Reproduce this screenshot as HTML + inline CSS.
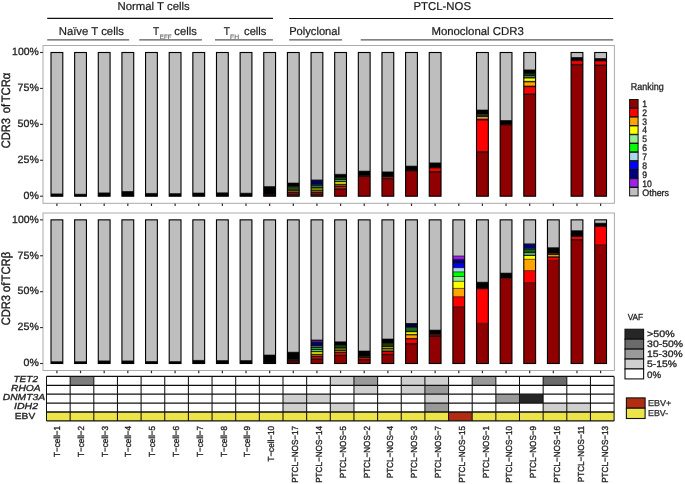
<!DOCTYPE html>
<html><head><meta charset="utf-8"><style>
html,body{margin:0;padding:0;background:#fff;width:685px;height:484px;overflow:hidden}
svg{display:block;will-change:transform}
text{font-family:"Liberation Sans", sans-serif;text-rendering:geometricPrecision;stroke-width:0.3px}
</style></head><body><div id="w">
<svg width="685" height="484" viewBox="0 0 685 484" font-family='"Liberation Sans", sans-serif'>
<rect x="0.00" y="0.00" width="685.00" height="484.00" fill="#ffffff"/>
<g>
<rect x="0.00" y="0.00" width="685.00" height="484.00" fill="#ffffff"/>
<text x="117.50" y="9.60" font-size="11.4" text-anchor="start" fill="#1a1a1a" stroke="#1a1a1a" textLength="72.20" lengthAdjust="spacingAndGlyphs" style="stroke-width:0.2px">Normal T cells</text>
<text x="413.50" y="9.50" font-size="11.4" text-anchor="start" fill="#1a1a1a" stroke="#1a1a1a" textLength="57.50" lengthAdjust="spacingAndGlyphs" style="stroke-width:0.2px">PTCL-NOS</text>
<line x1="47.20" y1="18.30" x2="273.00" y2="18.30" stroke="#111" stroke-width="1.2"/>
<line x1="289.20" y1="18.50" x2="613.20" y2="18.50" stroke="#111" stroke-width="1.2"/>
<text x="58.70" y="34.60" font-size="11.4" text-anchor="start" fill="#1a1a1a" stroke="#1a1a1a" textLength="65.20" lengthAdjust="spacingAndGlyphs" style="stroke-width:0.2px">Naïve T cells</text>
<text x="153.10" y="34.50" font-size="11.4" text-anchor="start" fill="#1a1a1a" stroke="#1a1a1a" textLength="6.20" lengthAdjust="spacingAndGlyphs" style="stroke-width:0.2px">T</text>
<text x="159.80" y="38.90" font-size="6.3" text-anchor="start" fill="#5a5a5a" stroke="#5a5a5a" textLength="11.90" lengthAdjust="spacingAndGlyphs" style="stroke-width:0.1px">EFF</text>
<text x="174.30" y="34.50" font-size="11.4" text-anchor="start" fill="#1a1a1a" stroke="#1a1a1a" textLength="22.50" lengthAdjust="spacingAndGlyphs" style="stroke-width:0.2px">cells</text>
<text x="223.80" y="34.50" font-size="11.4" text-anchor="start" fill="#1a1a1a" stroke="#1a1a1a" textLength="6.20" lengthAdjust="spacingAndGlyphs" style="stroke-width:0.2px">T</text>
<text x="230.10" y="38.90" font-size="6.3" text-anchor="start" fill="#5a5a5a" stroke="#5a5a5a" textLength="9.00" lengthAdjust="spacingAndGlyphs" style="stroke-width:0.1px">FH</text>
<text x="244.10" y="34.50" font-size="11.4" text-anchor="start" fill="#1a1a1a" stroke="#1a1a1a" textLength="22.30" lengthAdjust="spacingAndGlyphs" style="stroke-width:0.2px">cells</text>
<text x="289.20" y="34.50" font-size="11.4" text-anchor="start" fill="#1a1a1a" stroke="#1a1a1a" textLength="50.80" lengthAdjust="spacingAndGlyphs" style="stroke-width:0.2px">Polyclonal</text>
<text x="431.40" y="35.00" font-size="11.4" text-anchor="start" fill="#1a1a1a" stroke="#1a1a1a" textLength="92.40" lengthAdjust="spacingAndGlyphs" style="stroke-width:0.2px">Monoclonal CDR3</text>
<line x1="47.20" y1="39.85" x2="129.20" y2="39.85" stroke="#5a5a5a" stroke-width="1.3"/>
<line x1="139.30" y1="39.85" x2="201.90" y2="39.85" stroke="#5a5a5a" stroke-width="1.3"/>
<line x1="215.00" y1="39.85" x2="272.90" y2="39.85" stroke="#5a5a5a" stroke-width="1.3"/>
<line x1="289.20" y1="39.85" x2="342.10" y2="39.85" stroke="#5a5a5a" stroke-width="1.3"/>
<line x1="360.70" y1="39.85" x2="613.20" y2="39.85" stroke="#5a5a5a" stroke-width="1.3"/>
<rect x="43.00" y="45.50" width="571.40" height="157.80" fill="#ffffff" stroke="#ababab" stroke-width="1.0"/>
<rect x="43.00" y="213.00" width="571.40" height="157.50" fill="#ffffff" stroke="#ababab" stroke-width="1.0"/>
<line x1="40.00" y1="196.20" x2="43.00" y2="196.20" stroke="#333" stroke-width="1.1"/>
<text x="38.80" y="199.00" font-size="10.5" text-anchor="end" fill="#222" stroke="#222" textLength="15.30" lengthAdjust="spacingAndGlyphs">0%</text>
<line x1="40.00" y1="160.27" x2="43.00" y2="160.27" stroke="#333" stroke-width="1.1"/>
<text x="38.80" y="163.07" font-size="10.5" text-anchor="end" fill="#222" stroke="#222" textLength="21.20" lengthAdjust="spacingAndGlyphs">25%</text>
<line x1="40.00" y1="124.35" x2="43.00" y2="124.35" stroke="#333" stroke-width="1.1"/>
<text x="38.80" y="127.15" font-size="10.5" text-anchor="end" fill="#222" stroke="#222" textLength="21.20" lengthAdjust="spacingAndGlyphs">50%</text>
<line x1="40.00" y1="88.42" x2="43.00" y2="88.42" stroke="#333" stroke-width="1.1"/>
<text x="38.80" y="91.22" font-size="10.5" text-anchor="end" fill="#222" stroke="#222" textLength="21.20" lengthAdjust="spacingAndGlyphs">75%</text>
<line x1="40.00" y1="52.50" x2="43.00" y2="52.50" stroke="#333" stroke-width="1.1"/>
<text x="38.80" y="55.30" font-size="10.5" text-anchor="end" fill="#222" stroke="#222" textLength="26.70" lengthAdjust="spacingAndGlyphs">100%</text>
<line x1="40.00" y1="363.50" x2="43.00" y2="363.50" stroke="#333" stroke-width="1.1"/>
<text x="38.80" y="366.30" font-size="10.5" text-anchor="end" fill="#222" stroke="#222" textLength="15.30" lengthAdjust="spacingAndGlyphs">0%</text>
<line x1="40.00" y1="327.59" x2="43.00" y2="327.59" stroke="#333" stroke-width="1.1"/>
<text x="38.80" y="330.39" font-size="10.5" text-anchor="end" fill="#222" stroke="#222" textLength="21.20" lengthAdjust="spacingAndGlyphs">25%</text>
<line x1="40.00" y1="291.68" x2="43.00" y2="291.68" stroke="#333" stroke-width="1.1"/>
<text x="38.80" y="294.48" font-size="10.5" text-anchor="end" fill="#222" stroke="#222" textLength="21.20" lengthAdjust="spacingAndGlyphs">50%</text>
<line x1="40.00" y1="255.76" x2="43.00" y2="255.76" stroke="#333" stroke-width="1.1"/>
<text x="38.80" y="258.56" font-size="10.5" text-anchor="end" fill="#222" stroke="#222" textLength="21.20" lengthAdjust="spacingAndGlyphs">75%</text>
<line x1="40.00" y1="219.85" x2="43.00" y2="219.85" stroke="#333" stroke-width="1.1"/>
<text x="38.80" y="222.65" font-size="10.5" text-anchor="end" fill="#222" stroke="#222" textLength="26.70" lengthAdjust="spacingAndGlyphs">100%</text>
<text transform="translate(9.70,148.30) scale(1.15,1) rotate(-90)" x="0" y="0" font-size="10.6" fill="#1a1a1a" stroke="#1a1a1a" textLength="30.20" lengthAdjust="spacingAndGlyphs">CDR3</text>
<text transform="translate(9.70,113.30) scale(1.15,1) rotate(-90)" x="0" y="0" font-size="10.6" fill="#1a1a1a" stroke="#1a1a1a" textLength="9.30" lengthAdjust="spacingAndGlyphs">of</text>
<text transform="translate(9.70,102.30) scale(1.15,1) rotate(-90)" x="0" y="0" font-size="10.6" fill="#1a1a1a" stroke="#1a1a1a" textLength="29.70" lengthAdjust="spacingAndGlyphs">TCRα</text>
<text transform="translate(9.70,325.30) scale(1.15,1) rotate(-90)" x="0" y="0" font-size="10.6" fill="#1a1a1a" stroke="#1a1a1a" textLength="30.30" lengthAdjust="spacingAndGlyphs">CDR3</text>
<text transform="translate(9.70,292.30) scale(1.15,1) rotate(-90)" x="0" y="0" font-size="10.6" fill="#1a1a1a" stroke="#1a1a1a" textLength="9.70" lengthAdjust="spacingAndGlyphs">of</text>
<text transform="translate(9.70,281.40) scale(1.15,1) rotate(-90)" x="0" y="0" font-size="10.6" fill="#1a1a1a" stroke="#1a1a1a" textLength="29.50" lengthAdjust="spacingAndGlyphs">TCRβ</text>
<rect x="51.00" y="52.50" width="11.80" height="143.70" fill="#bebebe"/>
<rect x="51.00" y="193.90" width="11.80" height="2.30" fill="#000000"/>
<line x1="51.00" y1="193.90" x2="62.80" y2="193.90" stroke="#000" stroke-width="0.6"/>
<rect x="51.00" y="52.50" width="11.80" height="143.70" fill="none" stroke="#000" stroke-width="1.1"/>
<rect x="51.00" y="219.85" width="11.80" height="143.65" fill="#bebebe"/>
<rect x="51.00" y="361.70" width="11.80" height="1.80" fill="#000000"/>
<line x1="51.00" y1="361.70" x2="62.80" y2="361.70" stroke="#000" stroke-width="0.6"/>
<rect x="51.00" y="219.85" width="11.80" height="143.65" fill="none" stroke="#000" stroke-width="1.1"/>
<line x1="56.90" y1="203.60" x2="56.90" y2="206.00" stroke="#2a2a2a" stroke-width="1.2"/>
<line x1="56.90" y1="370.80" x2="56.90" y2="373.20" stroke="#2a2a2a" stroke-width="1.2"/>
<rect x="74.64" y="52.50" width="11.80" height="143.70" fill="#bebebe"/>
<rect x="74.64" y="194.20" width="11.80" height="2.00" fill="#000000"/>
<line x1="74.64" y1="194.20" x2="86.44" y2="194.20" stroke="#000" stroke-width="0.6"/>
<rect x="74.64" y="52.50" width="11.80" height="143.70" fill="none" stroke="#000" stroke-width="1.1"/>
<rect x="74.64" y="219.85" width="11.80" height="143.65" fill="#bebebe"/>
<rect x="74.64" y="361.70" width="11.80" height="1.80" fill="#000000"/>
<line x1="74.64" y1="361.70" x2="86.44" y2="361.70" stroke="#000" stroke-width="0.6"/>
<rect x="74.64" y="219.85" width="11.80" height="143.65" fill="none" stroke="#000" stroke-width="1.1"/>
<line x1="80.54" y1="203.60" x2="80.54" y2="206.00" stroke="#2a2a2a" stroke-width="1.2"/>
<line x1="80.54" y1="370.80" x2="80.54" y2="373.20" stroke="#2a2a2a" stroke-width="1.2"/>
<rect x="98.28" y="52.50" width="11.80" height="143.70" fill="#bebebe"/>
<rect x="98.28" y="192.90" width="11.80" height="3.30" fill="#000000"/>
<line x1="98.28" y1="192.90" x2="110.08" y2="192.90" stroke="#000" stroke-width="0.6"/>
<rect x="98.28" y="52.50" width="11.80" height="143.70" fill="none" stroke="#000" stroke-width="1.1"/>
<rect x="98.28" y="219.85" width="11.80" height="143.65" fill="#bebebe"/>
<rect x="98.28" y="360.90" width="11.80" height="2.60" fill="#000000"/>
<line x1="98.28" y1="360.90" x2="110.08" y2="360.90" stroke="#000" stroke-width="0.6"/>
<rect x="98.28" y="219.85" width="11.80" height="143.65" fill="none" stroke="#000" stroke-width="1.1"/>
<line x1="104.18" y1="203.60" x2="104.18" y2="206.00" stroke="#2a2a2a" stroke-width="1.2"/>
<line x1="104.18" y1="370.80" x2="104.18" y2="373.20" stroke="#2a2a2a" stroke-width="1.2"/>
<rect x="121.92" y="52.50" width="11.80" height="143.70" fill="#bebebe"/>
<rect x="121.92" y="191.50" width="11.80" height="4.70" fill="#000000"/>
<line x1="121.92" y1="191.50" x2="133.72" y2="191.50" stroke="#000" stroke-width="0.6"/>
<rect x="121.92" y="52.50" width="11.80" height="143.70" fill="none" stroke="#000" stroke-width="1.1"/>
<rect x="121.92" y="219.85" width="11.80" height="143.65" fill="#bebebe"/>
<rect x="121.92" y="360.90" width="11.80" height="2.60" fill="#000000"/>
<line x1="121.92" y1="360.90" x2="133.72" y2="360.90" stroke="#000" stroke-width="0.6"/>
<rect x="121.92" y="219.85" width="11.80" height="143.65" fill="none" stroke="#000" stroke-width="1.1"/>
<line x1="127.82" y1="203.60" x2="127.82" y2="206.00" stroke="#2a2a2a" stroke-width="1.2"/>
<line x1="127.82" y1="370.80" x2="127.82" y2="373.20" stroke="#2a2a2a" stroke-width="1.2"/>
<rect x="145.56" y="52.50" width="11.80" height="143.70" fill="#bebebe"/>
<rect x="145.56" y="193.40" width="11.80" height="2.80" fill="#000000"/>
<line x1="145.56" y1="193.40" x2="157.36" y2="193.40" stroke="#000" stroke-width="0.6"/>
<rect x="145.56" y="52.50" width="11.80" height="143.70" fill="none" stroke="#000" stroke-width="1.1"/>
<rect x="145.56" y="219.85" width="11.80" height="143.65" fill="#bebebe"/>
<rect x="145.56" y="361.50" width="11.80" height="2.00" fill="#000000"/>
<line x1="145.56" y1="361.50" x2="157.36" y2="361.50" stroke="#000" stroke-width="0.6"/>
<rect x="145.56" y="219.85" width="11.80" height="143.65" fill="none" stroke="#000" stroke-width="1.1"/>
<line x1="151.46" y1="203.60" x2="151.46" y2="206.00" stroke="#2a2a2a" stroke-width="1.2"/>
<line x1="151.46" y1="370.80" x2="151.46" y2="373.20" stroke="#2a2a2a" stroke-width="1.2"/>
<rect x="169.20" y="52.50" width="11.80" height="143.70" fill="#bebebe"/>
<rect x="169.20" y="193.60" width="11.80" height="2.60" fill="#000000"/>
<line x1="169.20" y1="193.60" x2="181.00" y2="193.60" stroke="#000" stroke-width="0.6"/>
<rect x="169.20" y="52.50" width="11.80" height="143.70" fill="none" stroke="#000" stroke-width="1.1"/>
<rect x="169.20" y="219.85" width="11.80" height="143.65" fill="#bebebe"/>
<rect x="169.20" y="361.60" width="11.80" height="1.90" fill="#000000"/>
<line x1="169.20" y1="361.60" x2="181.00" y2="361.60" stroke="#000" stroke-width="0.6"/>
<rect x="169.20" y="219.85" width="11.80" height="143.65" fill="none" stroke="#000" stroke-width="1.1"/>
<line x1="175.10" y1="203.60" x2="175.10" y2="206.00" stroke="#2a2a2a" stroke-width="1.2"/>
<line x1="175.10" y1="370.80" x2="175.10" y2="373.20" stroke="#2a2a2a" stroke-width="1.2"/>
<rect x="192.84" y="52.50" width="11.80" height="143.70" fill="#bebebe"/>
<rect x="192.84" y="193.00" width="11.80" height="3.20" fill="#000000"/>
<line x1="192.84" y1="193.00" x2="204.64" y2="193.00" stroke="#000" stroke-width="0.6"/>
<rect x="192.84" y="52.50" width="11.80" height="143.70" fill="none" stroke="#000" stroke-width="1.1"/>
<rect x="192.84" y="219.85" width="11.80" height="143.65" fill="#bebebe"/>
<rect x="192.84" y="360.40" width="11.80" height="3.10" fill="#000000"/>
<line x1="192.84" y1="360.40" x2="204.64" y2="360.40" stroke="#000" stroke-width="0.6"/>
<rect x="192.84" y="219.85" width="11.80" height="143.65" fill="none" stroke="#000" stroke-width="1.1"/>
<line x1="198.74" y1="203.60" x2="198.74" y2="206.00" stroke="#2a2a2a" stroke-width="1.2"/>
<line x1="198.74" y1="370.80" x2="198.74" y2="373.20" stroke="#2a2a2a" stroke-width="1.2"/>
<rect x="216.48" y="52.50" width="11.80" height="143.70" fill="#bebebe"/>
<rect x="216.48" y="192.80" width="11.80" height="3.40" fill="#000000"/>
<line x1="216.48" y1="192.80" x2="228.28" y2="192.80" stroke="#000" stroke-width="0.6"/>
<rect x="216.48" y="52.50" width="11.80" height="143.70" fill="none" stroke="#000" stroke-width="1.1"/>
<rect x="216.48" y="219.85" width="11.80" height="143.65" fill="#bebebe"/>
<rect x="216.48" y="360.60" width="11.80" height="2.90" fill="#000000"/>
<line x1="216.48" y1="360.60" x2="228.28" y2="360.60" stroke="#000" stroke-width="0.6"/>
<rect x="216.48" y="219.85" width="11.80" height="143.65" fill="none" stroke="#000" stroke-width="1.1"/>
<line x1="222.38" y1="203.60" x2="222.38" y2="206.00" stroke="#2a2a2a" stroke-width="1.2"/>
<line x1="222.38" y1="370.80" x2="222.38" y2="373.20" stroke="#2a2a2a" stroke-width="1.2"/>
<rect x="240.12" y="52.50" width="11.80" height="143.70" fill="#bebebe"/>
<rect x="240.12" y="193.20" width="11.80" height="3.00" fill="#000000"/>
<line x1="240.12" y1="193.20" x2="251.92" y2="193.20" stroke="#000" stroke-width="0.6"/>
<rect x="240.12" y="52.50" width="11.80" height="143.70" fill="none" stroke="#000" stroke-width="1.1"/>
<rect x="240.12" y="219.85" width="11.80" height="143.65" fill="#bebebe"/>
<rect x="240.12" y="360.60" width="11.80" height="2.90" fill="#000000"/>
<line x1="240.12" y1="360.60" x2="251.92" y2="360.60" stroke="#000" stroke-width="0.6"/>
<rect x="240.12" y="219.85" width="11.80" height="143.65" fill="none" stroke="#000" stroke-width="1.1"/>
<line x1="246.02" y1="203.60" x2="246.02" y2="206.00" stroke="#2a2a2a" stroke-width="1.2"/>
<line x1="246.02" y1="370.80" x2="246.02" y2="373.20" stroke="#2a2a2a" stroke-width="1.2"/>
<rect x="263.76" y="52.50" width="11.80" height="143.70" fill="#bebebe"/>
<rect x="263.76" y="194.80" width="11.80" height="1.40" fill="#2a0000"/>
<rect x="263.76" y="186.60" width="11.80" height="8.20" fill="#000000"/>
<line x1="263.76" y1="194.80" x2="275.56" y2="194.80" stroke="#000" stroke-width="0.6"/>
<line x1="263.76" y1="186.60" x2="275.56" y2="186.60" stroke="#000" stroke-width="0.6"/>
<rect x="263.76" y="52.50" width="11.80" height="143.70" fill="none" stroke="#000" stroke-width="1.1"/>
<rect x="263.76" y="219.85" width="11.80" height="143.65" fill="#bebebe"/>
<rect x="263.76" y="362.00" width="11.80" height="1.50" fill="#200000"/>
<rect x="263.76" y="355.00" width="11.80" height="7.00" fill="#000000"/>
<line x1="263.76" y1="362.00" x2="275.56" y2="362.00" stroke="#000" stroke-width="0.6"/>
<line x1="263.76" y1="355.00" x2="275.56" y2="355.00" stroke="#000" stroke-width="0.6"/>
<rect x="263.76" y="219.85" width="11.80" height="143.65" fill="none" stroke="#000" stroke-width="1.1"/>
<line x1="269.66" y1="203.60" x2="269.66" y2="206.00" stroke="#2a2a2a" stroke-width="1.2"/>
<line x1="269.66" y1="370.80" x2="269.66" y2="373.20" stroke="#2a2a2a" stroke-width="1.2"/>
<rect x="287.40" y="52.50" width="11.80" height="143.70" fill="#bebebe"/>
<rect x="287.40" y="194.30" width="11.80" height="1.90" fill="#900000"/>
<rect x="287.40" y="193.90" width="11.80" height="0.40" fill="#000000"/>
<rect x="287.40" y="192.50" width="11.80" height="1.40" fill="#c81818"/>
<rect x="287.40" y="192.20" width="11.80" height="0.30" fill="#000000"/>
<rect x="287.40" y="191.00" width="11.80" height="1.20" fill="#ffa500"/>
<rect x="287.40" y="190.70" width="11.80" height="0.30" fill="#000000"/>
<rect x="287.40" y="189.60" width="11.80" height="1.10" fill="#6a6a00"/>
<rect x="287.40" y="186.70" width="11.80" height="2.90" fill="#1a4a1a"/>
<rect x="287.40" y="183.00" width="11.80" height="3.70" fill="#000000"/>
<line x1="287.40" y1="194.30" x2="299.20" y2="194.30" stroke="#000" stroke-width="0.6"/>
<line x1="287.40" y1="193.90" x2="299.20" y2="193.90" stroke="#000" stroke-width="0.6"/>
<line x1="287.40" y1="192.50" x2="299.20" y2="192.50" stroke="#000" stroke-width="0.6"/>
<line x1="287.40" y1="192.20" x2="299.20" y2="192.20" stroke="#000" stroke-width="0.6"/>
<line x1="287.40" y1="191.00" x2="299.20" y2="191.00" stroke="#000" stroke-width="0.6"/>
<line x1="287.40" y1="190.70" x2="299.20" y2="190.70" stroke="#000" stroke-width="0.6"/>
<line x1="287.40" y1="189.60" x2="299.20" y2="189.60" stroke="#000" stroke-width="0.6"/>
<line x1="287.40" y1="186.70" x2="299.20" y2="186.70" stroke="#000" stroke-width="0.6"/>
<line x1="287.40" y1="183.00" x2="299.20" y2="183.00" stroke="#000" stroke-width="0.6"/>
<rect x="287.40" y="52.50" width="11.80" height="143.70" fill="none" stroke="#000" stroke-width="1.1"/>
<rect x="287.40" y="219.85" width="11.80" height="143.65" fill="#bebebe"/>
<rect x="287.40" y="360.50" width="11.80" height="3.00" fill="#5a0000"/>
<rect x="287.40" y="359.70" width="11.80" height="0.80" fill="#1a0000"/>
<rect x="287.40" y="352.20" width="11.80" height="7.50" fill="#000000"/>
<line x1="287.40" y1="360.50" x2="299.20" y2="360.50" stroke="#000" stroke-width="0.6"/>
<line x1="287.40" y1="359.70" x2="299.20" y2="359.70" stroke="#000" stroke-width="0.6"/>
<line x1="287.40" y1="352.20" x2="299.20" y2="352.20" stroke="#000" stroke-width="0.6"/>
<rect x="287.40" y="219.85" width="11.80" height="143.65" fill="none" stroke="#000" stroke-width="1.1"/>
<line x1="293.30" y1="203.60" x2="293.30" y2="206.00" stroke="#2a2a2a" stroke-width="1.2"/>
<line x1="293.30" y1="370.80" x2="293.30" y2="373.20" stroke="#2a2a2a" stroke-width="1.2"/>
<rect x="311.04" y="52.50" width="11.80" height="143.70" fill="#bebebe"/>
<rect x="311.04" y="194.30" width="11.80" height="1.90" fill="#900000"/>
<rect x="311.04" y="193.90" width="11.80" height="0.40" fill="#000000"/>
<rect x="311.04" y="192.50" width="11.80" height="1.40" fill="#c81818"/>
<rect x="311.04" y="192.20" width="11.80" height="0.30" fill="#000000"/>
<rect x="311.04" y="191.00" width="11.80" height="1.20" fill="#ffa500"/>
<rect x="311.04" y="190.60" width="11.80" height="0.40" fill="#000000"/>
<rect x="311.04" y="187.80" width="11.80" height="2.80" fill="#7a8a10"/>
<rect x="311.04" y="187.40" width="11.80" height="0.40" fill="#000000"/>
<rect x="311.04" y="185.30" width="11.80" height="2.10" fill="#1a8a2a"/>
<rect x="311.04" y="185.00" width="11.80" height="0.30" fill="#000000"/>
<rect x="311.04" y="184.20" width="11.80" height="0.80" fill="#1a4a6a"/>
<rect x="311.04" y="180.30" width="11.80" height="3.90" fill="#000060"/>
<rect x="311.04" y="180.00" width="11.80" height="0.30" fill="#000000"/>
<line x1="311.04" y1="194.30" x2="322.84" y2="194.30" stroke="#000" stroke-width="0.6"/>
<line x1="311.04" y1="193.90" x2="322.84" y2="193.90" stroke="#000" stroke-width="0.6"/>
<line x1="311.04" y1="192.50" x2="322.84" y2="192.50" stroke="#000" stroke-width="0.6"/>
<line x1="311.04" y1="192.20" x2="322.84" y2="192.20" stroke="#000" stroke-width="0.6"/>
<line x1="311.04" y1="191.00" x2="322.84" y2="191.00" stroke="#000" stroke-width="0.6"/>
<line x1="311.04" y1="190.60" x2="322.84" y2="190.60" stroke="#000" stroke-width="0.6"/>
<line x1="311.04" y1="187.80" x2="322.84" y2="187.80" stroke="#000" stroke-width="0.6"/>
<line x1="311.04" y1="187.40" x2="322.84" y2="187.40" stroke="#000" stroke-width="0.6"/>
<line x1="311.04" y1="185.30" x2="322.84" y2="185.30" stroke="#000" stroke-width="0.6"/>
<line x1="311.04" y1="185.00" x2="322.84" y2="185.00" stroke="#000" stroke-width="0.6"/>
<line x1="311.04" y1="184.20" x2="322.84" y2="184.20" stroke="#000" stroke-width="0.6"/>
<line x1="311.04" y1="180.30" x2="322.84" y2="180.30" stroke="#000" stroke-width="0.6"/>
<line x1="311.04" y1="180.00" x2="322.84" y2="180.00" stroke="#000" stroke-width="0.6"/>
<rect x="311.04" y="52.50" width="11.80" height="143.70" fill="none" stroke="#000" stroke-width="1.1"/>
<rect x="311.04" y="219.85" width="11.80" height="143.65" fill="#bebebe"/>
<rect x="311.04" y="359.20" width="11.80" height="4.30" fill="#900000"/>
<rect x="311.04" y="358.80" width="11.80" height="0.40" fill="#000000"/>
<rect x="311.04" y="356.80" width="11.80" height="2.00" fill="#ff0000"/>
<rect x="311.04" y="356.10" width="11.80" height="0.70" fill="#000000"/>
<rect x="311.04" y="354.90" width="11.80" height="1.20" fill="#ffa500"/>
<rect x="311.04" y="354.20" width="11.80" height="0.70" fill="#000000"/>
<rect x="311.04" y="351.90" width="11.80" height="2.30" fill="#ffff00"/>
<rect x="311.04" y="351.30" width="11.80" height="0.60" fill="#000000"/>
<rect x="311.04" y="349.70" width="11.80" height="1.60" fill="#90ee90"/>
<rect x="311.04" y="349.10" width="11.80" height="0.60" fill="#000000"/>
<rect x="311.04" y="347.50" width="11.80" height="1.60" fill="#00ff00"/>
<rect x="311.04" y="346.90" width="11.80" height="0.60" fill="#000000"/>
<rect x="311.04" y="346.00" width="11.80" height="0.90" fill="#add8e6"/>
<rect x="311.04" y="345.40" width="11.80" height="0.60" fill="#000000"/>
<rect x="311.04" y="342.30" width="11.80" height="3.10" fill="#000080"/>
<rect x="311.04" y="341.80" width="11.80" height="0.50" fill="#000000"/>
<rect x="311.04" y="340.40" width="11.80" height="1.40" fill="#a020f0"/>
<rect x="311.04" y="340.00" width="11.80" height="0.40" fill="#000000"/>
<line x1="311.04" y1="359.20" x2="322.84" y2="359.20" stroke="#000" stroke-width="0.6"/>
<line x1="311.04" y1="358.80" x2="322.84" y2="358.80" stroke="#000" stroke-width="0.6"/>
<line x1="311.04" y1="356.80" x2="322.84" y2="356.80" stroke="#000" stroke-width="0.6"/>
<line x1="311.04" y1="356.10" x2="322.84" y2="356.10" stroke="#000" stroke-width="0.6"/>
<line x1="311.04" y1="354.90" x2="322.84" y2="354.90" stroke="#000" stroke-width="0.6"/>
<line x1="311.04" y1="354.20" x2="322.84" y2="354.20" stroke="#000" stroke-width="0.6"/>
<line x1="311.04" y1="351.90" x2="322.84" y2="351.90" stroke="#000" stroke-width="0.6"/>
<line x1="311.04" y1="351.30" x2="322.84" y2="351.30" stroke="#000" stroke-width="0.6"/>
<line x1="311.04" y1="349.70" x2="322.84" y2="349.70" stroke="#000" stroke-width="0.6"/>
<line x1="311.04" y1="349.10" x2="322.84" y2="349.10" stroke="#000" stroke-width="0.6"/>
<line x1="311.04" y1="347.50" x2="322.84" y2="347.50" stroke="#000" stroke-width="0.6"/>
<line x1="311.04" y1="346.90" x2="322.84" y2="346.90" stroke="#000" stroke-width="0.6"/>
<line x1="311.04" y1="346.00" x2="322.84" y2="346.00" stroke="#000" stroke-width="0.6"/>
<line x1="311.04" y1="345.40" x2="322.84" y2="345.40" stroke="#000" stroke-width="0.6"/>
<line x1="311.04" y1="342.30" x2="322.84" y2="342.30" stroke="#000" stroke-width="0.6"/>
<line x1="311.04" y1="341.80" x2="322.84" y2="341.80" stroke="#000" stroke-width="0.6"/>
<line x1="311.04" y1="340.40" x2="322.84" y2="340.40" stroke="#000" stroke-width="0.6"/>
<line x1="311.04" y1="340.00" x2="322.84" y2="340.00" stroke="#000" stroke-width="0.6"/>
<rect x="311.04" y="219.85" width="11.80" height="143.65" fill="none" stroke="#000" stroke-width="1.1"/>
<line x1="316.94" y1="203.60" x2="316.94" y2="206.00" stroke="#2a2a2a" stroke-width="1.2"/>
<line x1="316.94" y1="370.80" x2="316.94" y2="373.20" stroke="#2a2a2a" stroke-width="1.2"/>
<rect x="334.68" y="52.50" width="11.80" height="143.70" fill="#bebebe"/>
<rect x="334.68" y="189.20" width="11.80" height="7.00" fill="#900000"/>
<rect x="334.68" y="188.90" width="11.80" height="0.30" fill="#000000"/>
<rect x="334.68" y="186.30" width="11.80" height="2.60" fill="#c82010"/>
<rect x="334.68" y="186.00" width="11.80" height="0.30" fill="#000000"/>
<rect x="334.68" y="184.90" width="11.80" height="1.10" fill="#ffa500"/>
<rect x="334.68" y="184.30" width="11.80" height="0.60" fill="#000000"/>
<rect x="334.68" y="181.60" width="11.80" height="2.70" fill="#d8d810"/>
<rect x="334.68" y="181.10" width="11.80" height="0.50" fill="#000000"/>
<rect x="334.68" y="179.80" width="11.80" height="1.30" fill="#90ee90"/>
<rect x="334.68" y="179.50" width="11.80" height="0.30" fill="#000000"/>
<rect x="334.68" y="177.70" width="11.80" height="1.80" fill="#0a5a0a"/>
<rect x="334.68" y="174.30" width="11.80" height="3.40" fill="#000000"/>
<line x1="334.68" y1="189.20" x2="346.48" y2="189.20" stroke="#000" stroke-width="0.6"/>
<line x1="334.68" y1="188.90" x2="346.48" y2="188.90" stroke="#000" stroke-width="0.6"/>
<line x1="334.68" y1="186.30" x2="346.48" y2="186.30" stroke="#000" stroke-width="0.6"/>
<line x1="334.68" y1="186.00" x2="346.48" y2="186.00" stroke="#000" stroke-width="0.6"/>
<line x1="334.68" y1="184.90" x2="346.48" y2="184.90" stroke="#000" stroke-width="0.6"/>
<line x1="334.68" y1="184.30" x2="346.48" y2="184.30" stroke="#000" stroke-width="0.6"/>
<line x1="334.68" y1="181.60" x2="346.48" y2="181.60" stroke="#000" stroke-width="0.6"/>
<line x1="334.68" y1="181.10" x2="346.48" y2="181.10" stroke="#000" stroke-width="0.6"/>
<line x1="334.68" y1="179.80" x2="346.48" y2="179.80" stroke="#000" stroke-width="0.6"/>
<line x1="334.68" y1="179.50" x2="346.48" y2="179.50" stroke="#000" stroke-width="0.6"/>
<line x1="334.68" y1="177.70" x2="346.48" y2="177.70" stroke="#000" stroke-width="0.6"/>
<line x1="334.68" y1="174.30" x2="346.48" y2="174.30" stroke="#000" stroke-width="0.6"/>
<rect x="334.68" y="52.50" width="11.80" height="143.70" fill="none" stroke="#000" stroke-width="1.1"/>
<rect x="334.68" y="219.85" width="11.80" height="143.65" fill="#bebebe"/>
<rect x="334.68" y="355.60" width="11.80" height="7.90" fill="#900000"/>
<rect x="334.68" y="355.20" width="11.80" height="0.40" fill="#000000"/>
<rect x="334.68" y="352.80" width="11.80" height="2.40" fill="#ff0000"/>
<rect x="334.68" y="352.20" width="11.80" height="0.60" fill="#000000"/>
<rect x="334.68" y="350.90" width="11.80" height="1.30" fill="#ffa500"/>
<rect x="334.68" y="350.30" width="11.80" height="0.60" fill="#000000"/>
<rect x="334.68" y="348.00" width="11.80" height="2.30" fill="#6a7a00"/>
<rect x="334.68" y="347.60" width="11.80" height="0.40" fill="#000000"/>
<rect x="334.68" y="345.20" width="11.80" height="2.40" fill="#0a4a0a"/>
<rect x="334.68" y="341.80" width="11.80" height="3.40" fill="#000000"/>
<line x1="334.68" y1="355.60" x2="346.48" y2="355.60" stroke="#000" stroke-width="0.6"/>
<line x1="334.68" y1="355.20" x2="346.48" y2="355.20" stroke="#000" stroke-width="0.6"/>
<line x1="334.68" y1="352.80" x2="346.48" y2="352.80" stroke="#000" stroke-width="0.6"/>
<line x1="334.68" y1="352.20" x2="346.48" y2="352.20" stroke="#000" stroke-width="0.6"/>
<line x1="334.68" y1="350.90" x2="346.48" y2="350.90" stroke="#000" stroke-width="0.6"/>
<line x1="334.68" y1="350.30" x2="346.48" y2="350.30" stroke="#000" stroke-width="0.6"/>
<line x1="334.68" y1="348.00" x2="346.48" y2="348.00" stroke="#000" stroke-width="0.6"/>
<line x1="334.68" y1="347.60" x2="346.48" y2="347.60" stroke="#000" stroke-width="0.6"/>
<line x1="334.68" y1="345.20" x2="346.48" y2="345.20" stroke="#000" stroke-width="0.6"/>
<line x1="334.68" y1="341.80" x2="346.48" y2="341.80" stroke="#000" stroke-width="0.6"/>
<rect x="334.68" y="219.85" width="11.80" height="143.65" fill="none" stroke="#000" stroke-width="1.1"/>
<line x1="340.58" y1="203.60" x2="340.58" y2="206.00" stroke="#2a2a2a" stroke-width="1.2"/>
<line x1="340.58" y1="370.80" x2="340.58" y2="373.20" stroke="#2a2a2a" stroke-width="1.2"/>
<rect x="358.32" y="52.50" width="11.80" height="143.70" fill="#bebebe"/>
<rect x="358.32" y="176.60" width="11.80" height="19.60" fill="#900000"/>
<rect x="358.32" y="175.80" width="11.80" height="0.80" fill="#300000"/>
<rect x="358.32" y="171.10" width="11.80" height="4.70" fill="#000000"/>
<line x1="358.32" y1="176.60" x2="370.12" y2="176.60" stroke="#000" stroke-width="0.6"/>
<line x1="358.32" y1="175.80" x2="370.12" y2="175.80" stroke="#000" stroke-width="0.6"/>
<line x1="358.32" y1="171.10" x2="370.12" y2="171.10" stroke="#000" stroke-width="0.6"/>
<rect x="358.32" y="52.50" width="11.80" height="143.70" fill="none" stroke="#000" stroke-width="1.1"/>
<rect x="358.32" y="219.85" width="11.80" height="143.65" fill="#bebebe"/>
<rect x="358.32" y="359.90" width="11.80" height="3.60" fill="#900000"/>
<rect x="358.32" y="359.30" width="11.80" height="0.60" fill="#000000"/>
<rect x="358.32" y="357.50" width="11.80" height="1.80" fill="#ff0000"/>
<rect x="358.32" y="357.00" width="11.80" height="0.50" fill="#000000"/>
<rect x="358.32" y="356.10" width="11.80" height="0.90" fill="#0a4a0a"/>
<rect x="358.32" y="351.00" width="11.80" height="5.10" fill="#000000"/>
<line x1="358.32" y1="359.90" x2="370.12" y2="359.90" stroke="#000" stroke-width="0.6"/>
<line x1="358.32" y1="359.30" x2="370.12" y2="359.30" stroke="#000" stroke-width="0.6"/>
<line x1="358.32" y1="357.50" x2="370.12" y2="357.50" stroke="#000" stroke-width="0.6"/>
<line x1="358.32" y1="357.00" x2="370.12" y2="357.00" stroke="#000" stroke-width="0.6"/>
<line x1="358.32" y1="356.10" x2="370.12" y2="356.10" stroke="#000" stroke-width="0.6"/>
<line x1="358.32" y1="351.00" x2="370.12" y2="351.00" stroke="#000" stroke-width="0.6"/>
<rect x="358.32" y="219.85" width="11.80" height="143.65" fill="none" stroke="#000" stroke-width="1.1"/>
<line x1="364.22" y1="203.60" x2="364.22" y2="206.00" stroke="#2a2a2a" stroke-width="1.2"/>
<line x1="364.22" y1="370.80" x2="364.22" y2="373.20" stroke="#2a2a2a" stroke-width="1.2"/>
<rect x="381.96" y="52.50" width="11.80" height="143.70" fill="#bebebe"/>
<rect x="381.96" y="178.90" width="11.80" height="17.30" fill="#900000"/>
<rect x="381.96" y="178.60" width="11.80" height="0.30" fill="#000000"/>
<rect x="381.96" y="177.00" width="11.80" height="1.60" fill="#b02020"/>
<rect x="381.96" y="176.20" width="11.80" height="0.80" fill="#000000"/>
<rect x="381.96" y="171.90" width="11.80" height="4.30" fill="#000000"/>
<line x1="381.96" y1="178.90" x2="393.76" y2="178.90" stroke="#000" stroke-width="0.6"/>
<line x1="381.96" y1="178.60" x2="393.76" y2="178.60" stroke="#000" stroke-width="0.6"/>
<line x1="381.96" y1="177.00" x2="393.76" y2="177.00" stroke="#000" stroke-width="0.6"/>
<line x1="381.96" y1="176.20" x2="393.76" y2="176.20" stroke="#000" stroke-width="0.6"/>
<line x1="381.96" y1="171.90" x2="393.76" y2="171.90" stroke="#000" stroke-width="0.6"/>
<rect x="381.96" y="52.50" width="11.80" height="143.70" fill="none" stroke="#000" stroke-width="1.1"/>
<rect x="381.96" y="219.85" width="11.80" height="143.65" fill="#bebebe"/>
<rect x="381.96" y="354.70" width="11.80" height="8.80" fill="#900000"/>
<rect x="381.96" y="354.20" width="11.80" height="0.50" fill="#000000"/>
<rect x="381.96" y="351.70" width="11.80" height="2.50" fill="#ff0000"/>
<rect x="381.96" y="351.00" width="11.80" height="0.70" fill="#000000"/>
<rect x="381.96" y="348.70" width="11.80" height="2.30" fill="#a08a00"/>
<rect x="381.96" y="348.20" width="11.80" height="0.50" fill="#000000"/>
<rect x="381.96" y="346.90" width="11.80" height="1.30" fill="#ffff00"/>
<rect x="381.96" y="346.40" width="11.80" height="0.50" fill="#000000"/>
<rect x="381.96" y="343.30" width="11.80" height="3.10" fill="#1a3a0a"/>
<rect x="381.96" y="339.00" width="11.80" height="4.30" fill="#000000"/>
<line x1="381.96" y1="354.70" x2="393.76" y2="354.70" stroke="#000" stroke-width="0.6"/>
<line x1="381.96" y1="354.20" x2="393.76" y2="354.20" stroke="#000" stroke-width="0.6"/>
<line x1="381.96" y1="351.70" x2="393.76" y2="351.70" stroke="#000" stroke-width="0.6"/>
<line x1="381.96" y1="351.00" x2="393.76" y2="351.00" stroke="#000" stroke-width="0.6"/>
<line x1="381.96" y1="348.70" x2="393.76" y2="348.70" stroke="#000" stroke-width="0.6"/>
<line x1="381.96" y1="348.20" x2="393.76" y2="348.20" stroke="#000" stroke-width="0.6"/>
<line x1="381.96" y1="346.90" x2="393.76" y2="346.90" stroke="#000" stroke-width="0.6"/>
<line x1="381.96" y1="346.40" x2="393.76" y2="346.40" stroke="#000" stroke-width="0.6"/>
<line x1="381.96" y1="343.30" x2="393.76" y2="343.30" stroke="#000" stroke-width="0.6"/>
<line x1="381.96" y1="339.00" x2="393.76" y2="339.00" stroke="#000" stroke-width="0.6"/>
<rect x="381.96" y="219.85" width="11.80" height="143.65" fill="none" stroke="#000" stroke-width="1.1"/>
<line x1="387.86" y1="203.60" x2="387.86" y2="206.00" stroke="#2a2a2a" stroke-width="1.2"/>
<line x1="387.86" y1="370.80" x2="387.86" y2="373.20" stroke="#2a2a2a" stroke-width="1.2"/>
<rect x="405.60" y="52.50" width="11.80" height="143.70" fill="#bebebe"/>
<rect x="405.60" y="171.00" width="11.80" height="25.20" fill="#900000"/>
<rect x="405.60" y="170.50" width="11.80" height="0.50" fill="#300000"/>
<rect x="405.60" y="166.10" width="11.80" height="4.40" fill="#000000"/>
<line x1="405.60" y1="171.00" x2="417.40" y2="171.00" stroke="#000" stroke-width="0.6"/>
<line x1="405.60" y1="170.50" x2="417.40" y2="170.50" stroke="#000" stroke-width="0.6"/>
<line x1="405.60" y1="166.10" x2="417.40" y2="166.10" stroke="#000" stroke-width="0.6"/>
<rect x="405.60" y="52.50" width="11.80" height="143.70" fill="none" stroke="#000" stroke-width="1.1"/>
<rect x="405.60" y="219.85" width="11.80" height="143.65" fill="#bebebe"/>
<rect x="405.60" y="344.00" width="11.80" height="19.50" fill="#900000"/>
<rect x="405.60" y="343.40" width="11.80" height="0.60" fill="#000000"/>
<rect x="405.60" y="339.00" width="11.80" height="4.40" fill="#ff0000"/>
<rect x="405.60" y="338.40" width="11.80" height="0.60" fill="#000000"/>
<rect x="405.60" y="335.00" width="11.80" height="3.40" fill="#ffa500"/>
<rect x="405.60" y="334.40" width="11.80" height="0.60" fill="#000000"/>
<rect x="405.60" y="331.90" width="11.80" height="2.50" fill="#ffff00"/>
<rect x="405.60" y="331.30" width="11.80" height="0.60" fill="#000000"/>
<rect x="405.60" y="327.40" width="11.80" height="3.90" fill="#1a6a1a"/>
<rect x="405.60" y="323.90" width="11.80" height="3.50" fill="#000040"/>
<rect x="405.60" y="323.50" width="11.80" height="0.40" fill="#000000"/>
<line x1="405.60" y1="344.00" x2="417.40" y2="344.00" stroke="#000" stroke-width="0.6"/>
<line x1="405.60" y1="343.40" x2="417.40" y2="343.40" stroke="#000" stroke-width="0.6"/>
<line x1="405.60" y1="339.00" x2="417.40" y2="339.00" stroke="#000" stroke-width="0.6"/>
<line x1="405.60" y1="338.40" x2="417.40" y2="338.40" stroke="#000" stroke-width="0.6"/>
<line x1="405.60" y1="335.00" x2="417.40" y2="335.00" stroke="#000" stroke-width="0.6"/>
<line x1="405.60" y1="334.40" x2="417.40" y2="334.40" stroke="#000" stroke-width="0.6"/>
<line x1="405.60" y1="331.90" x2="417.40" y2="331.90" stroke="#000" stroke-width="0.6"/>
<line x1="405.60" y1="331.30" x2="417.40" y2="331.30" stroke="#000" stroke-width="0.6"/>
<line x1="405.60" y1="327.40" x2="417.40" y2="327.40" stroke="#000" stroke-width="0.6"/>
<line x1="405.60" y1="323.90" x2="417.40" y2="323.90" stroke="#000" stroke-width="0.6"/>
<line x1="405.60" y1="323.50" x2="417.40" y2="323.50" stroke="#000" stroke-width="0.6"/>
<rect x="405.60" y="219.85" width="11.80" height="143.65" fill="none" stroke="#000" stroke-width="1.1"/>
<line x1="411.50" y1="203.60" x2="411.50" y2="206.00" stroke="#2a2a2a" stroke-width="1.2"/>
<line x1="411.50" y1="370.80" x2="411.50" y2="373.20" stroke="#2a2a2a" stroke-width="1.2"/>
<rect x="429.24" y="52.50" width="11.80" height="143.70" fill="#bebebe"/>
<rect x="429.24" y="172.00" width="11.80" height="24.20" fill="#900000"/>
<rect x="429.24" y="171.40" width="11.80" height="0.60" fill="#000000"/>
<rect x="429.24" y="168.00" width="11.80" height="3.40" fill="#ff0000"/>
<rect x="429.24" y="167.50" width="11.80" height="0.50" fill="#000000"/>
<rect x="429.24" y="162.90" width="11.80" height="4.60" fill="#000000"/>
<line x1="429.24" y1="172.00" x2="441.04" y2="172.00" stroke="#000" stroke-width="0.6"/>
<line x1="429.24" y1="171.40" x2="441.04" y2="171.40" stroke="#000" stroke-width="0.6"/>
<line x1="429.24" y1="168.00" x2="441.04" y2="168.00" stroke="#000" stroke-width="0.6"/>
<line x1="429.24" y1="167.50" x2="441.04" y2="167.50" stroke="#000" stroke-width="0.6"/>
<line x1="429.24" y1="162.90" x2="441.04" y2="162.90" stroke="#000" stroke-width="0.6"/>
<rect x="429.24" y="52.50" width="11.80" height="143.70" fill="none" stroke="#000" stroke-width="1.1"/>
<rect x="429.24" y="219.85" width="11.80" height="143.65" fill="#bebebe"/>
<rect x="429.24" y="336.40" width="11.80" height="27.10" fill="#900000"/>
<rect x="429.24" y="335.90" width="11.80" height="0.50" fill="#000000"/>
<rect x="429.24" y="334.40" width="11.80" height="1.50" fill="#7a0000"/>
<rect x="429.24" y="330.10" width="11.80" height="4.30" fill="#000000"/>
<line x1="429.24" y1="336.40" x2="441.04" y2="336.40" stroke="#000" stroke-width="0.6"/>
<line x1="429.24" y1="335.90" x2="441.04" y2="335.90" stroke="#000" stroke-width="0.6"/>
<line x1="429.24" y1="334.40" x2="441.04" y2="334.40" stroke="#000" stroke-width="0.6"/>
<line x1="429.24" y1="330.10" x2="441.04" y2="330.10" stroke="#000" stroke-width="0.6"/>
<rect x="429.24" y="219.85" width="11.80" height="143.65" fill="none" stroke="#000" stroke-width="1.1"/>
<line x1="435.14" y1="203.60" x2="435.14" y2="206.00" stroke="#2a2a2a" stroke-width="1.2"/>
<line x1="435.14" y1="370.80" x2="435.14" y2="373.20" stroke="#2a2a2a" stroke-width="1.2"/>
<rect x="452.88" y="219.85" width="11.80" height="143.65" fill="#bebebe"/>
<rect x="452.88" y="306.70" width="11.80" height="56.80" fill="#900000"/>
<rect x="452.88" y="296.70" width="11.80" height="10.00" fill="#ff0000"/>
<rect x="452.88" y="288.40" width="11.80" height="8.30" fill="#ffa500"/>
<rect x="452.88" y="281.30" width="11.80" height="7.10" fill="#ffff00"/>
<rect x="452.88" y="276.50" width="11.80" height="4.80" fill="#90ee90"/>
<rect x="452.88" y="271.90" width="11.80" height="4.60" fill="#00ff00"/>
<rect x="452.88" y="267.70" width="11.80" height="4.20" fill="#add8e6"/>
<rect x="452.88" y="263.70" width="11.80" height="4.00" fill="#0000ff"/>
<rect x="452.88" y="259.30" width="11.80" height="4.40" fill="#000080"/>
<rect x="452.88" y="256.00" width="11.80" height="3.30" fill="#a020f0"/>
<line x1="452.88" y1="306.70" x2="464.68" y2="306.70" stroke="#000" stroke-width="0.6"/>
<line x1="452.88" y1="296.70" x2="464.68" y2="296.70" stroke="#000" stroke-width="0.6"/>
<line x1="452.88" y1="288.40" x2="464.68" y2="288.40" stroke="#000" stroke-width="0.6"/>
<line x1="452.88" y1="281.30" x2="464.68" y2="281.30" stroke="#000" stroke-width="0.6"/>
<line x1="452.88" y1="276.50" x2="464.68" y2="276.50" stroke="#000" stroke-width="0.6"/>
<line x1="452.88" y1="271.90" x2="464.68" y2="271.90" stroke="#000" stroke-width="0.6"/>
<line x1="452.88" y1="267.70" x2="464.68" y2="267.70" stroke="#000" stroke-width="0.6"/>
<line x1="452.88" y1="263.70" x2="464.68" y2="263.70" stroke="#000" stroke-width="0.6"/>
<line x1="452.88" y1="259.30" x2="464.68" y2="259.30" stroke="#000" stroke-width="0.6"/>
<line x1="452.88" y1="256.00" x2="464.68" y2="256.00" stroke="#000" stroke-width="0.6"/>
<rect x="452.88" y="219.85" width="11.80" height="143.65" fill="none" stroke="#000" stroke-width="1.1"/>
<line x1="458.78" y1="203.60" x2="458.78" y2="206.00" stroke="#2a2a2a" stroke-width="1.2"/>
<line x1="458.78" y1="370.80" x2="458.78" y2="373.20" stroke="#2a2a2a" stroke-width="1.2"/>
<rect x="476.52" y="52.50" width="11.80" height="143.70" fill="#bebebe"/>
<rect x="476.52" y="152.10" width="11.80" height="44.10" fill="#900000"/>
<rect x="476.52" y="151.70" width="11.80" height="0.40" fill="#000000"/>
<rect x="476.52" y="120.10" width="11.80" height="31.60" fill="#ff0000"/>
<rect x="476.52" y="118.90" width="11.80" height="1.20" fill="#8a0000"/>
<rect x="476.52" y="116.70" width="11.80" height="2.20" fill="#f5b040"/>
<rect x="476.52" y="115.50" width="11.80" height="1.20" fill="#000000"/>
<rect x="476.52" y="114.30" width="11.80" height="1.20" fill="#6a6000"/>
<rect x="476.52" y="110.00" width="11.80" height="4.30" fill="#000000"/>
<line x1="476.52" y1="152.10" x2="488.32" y2="152.10" stroke="#000" stroke-width="0.6"/>
<line x1="476.52" y1="151.70" x2="488.32" y2="151.70" stroke="#000" stroke-width="0.6"/>
<line x1="476.52" y1="120.10" x2="488.32" y2="120.10" stroke="#000" stroke-width="0.6"/>
<line x1="476.52" y1="118.90" x2="488.32" y2="118.90" stroke="#000" stroke-width="0.6"/>
<line x1="476.52" y1="116.70" x2="488.32" y2="116.70" stroke="#000" stroke-width="0.6"/>
<line x1="476.52" y1="115.50" x2="488.32" y2="115.50" stroke="#000" stroke-width="0.6"/>
<line x1="476.52" y1="114.30" x2="488.32" y2="114.30" stroke="#000" stroke-width="0.6"/>
<line x1="476.52" y1="110.00" x2="488.32" y2="110.00" stroke="#000" stroke-width="0.6"/>
<rect x="476.52" y="52.50" width="11.80" height="143.70" fill="none" stroke="#000" stroke-width="1.1"/>
<rect x="476.52" y="219.85" width="11.80" height="143.65" fill="#bebebe"/>
<rect x="476.52" y="323.30" width="11.80" height="40.20" fill="#900000"/>
<rect x="476.52" y="288.80" width="11.80" height="34.50" fill="#ff0000"/>
<rect x="476.52" y="282.20" width="11.80" height="6.60" fill="#000000"/>
<line x1="476.52" y1="323.30" x2="488.32" y2="323.30" stroke="#000" stroke-width="0.6"/>
<line x1="476.52" y1="288.80" x2="488.32" y2="288.80" stroke="#000" stroke-width="0.6"/>
<line x1="476.52" y1="282.20" x2="488.32" y2="282.20" stroke="#000" stroke-width="0.6"/>
<rect x="476.52" y="219.85" width="11.80" height="143.65" fill="none" stroke="#000" stroke-width="1.1"/>
<line x1="482.42" y1="203.60" x2="482.42" y2="206.00" stroke="#2a2a2a" stroke-width="1.2"/>
<line x1="482.42" y1="370.80" x2="482.42" y2="373.20" stroke="#2a2a2a" stroke-width="1.2"/>
<rect x="500.16" y="52.50" width="11.80" height="143.70" fill="#bebebe"/>
<rect x="500.16" y="125.00" width="11.80" height="71.20" fill="#900000"/>
<rect x="500.16" y="124.40" width="11.80" height="0.60" fill="#300000"/>
<rect x="500.16" y="120.50" width="11.80" height="3.90" fill="#000000"/>
<line x1="500.16" y1="125.00" x2="511.96" y2="125.00" stroke="#000" stroke-width="0.6"/>
<line x1="500.16" y1="124.40" x2="511.96" y2="124.40" stroke="#000" stroke-width="0.6"/>
<line x1="500.16" y1="120.50" x2="511.96" y2="120.50" stroke="#000" stroke-width="0.6"/>
<rect x="500.16" y="52.50" width="11.80" height="143.70" fill="none" stroke="#000" stroke-width="1.1"/>
<rect x="500.16" y="219.85" width="11.80" height="143.65" fill="#bebebe"/>
<rect x="500.16" y="278.10" width="11.80" height="85.40" fill="#900000"/>
<rect x="500.16" y="273.10" width="11.80" height="5.00" fill="#000000"/>
<line x1="500.16" y1="278.10" x2="511.96" y2="278.10" stroke="#000" stroke-width="0.6"/>
<line x1="500.16" y1="273.10" x2="511.96" y2="273.10" stroke="#000" stroke-width="0.6"/>
<rect x="500.16" y="219.85" width="11.80" height="143.65" fill="none" stroke="#000" stroke-width="1.1"/>
<line x1="506.06" y1="203.60" x2="506.06" y2="206.00" stroke="#2a2a2a" stroke-width="1.2"/>
<line x1="506.06" y1="370.80" x2="506.06" y2="373.20" stroke="#2a2a2a" stroke-width="1.2"/>
<rect x="523.80" y="52.50" width="11.80" height="143.70" fill="#bebebe"/>
<rect x="523.80" y="94.40" width="11.80" height="101.80" fill="#900000"/>
<rect x="523.80" y="93.90" width="11.80" height="0.50" fill="#000000"/>
<rect x="523.80" y="86.70" width="11.80" height="7.20" fill="#ff0000"/>
<rect x="523.80" y="86.00" width="11.80" height="0.70" fill="#000000"/>
<rect x="523.80" y="82.00" width="11.80" height="4.00" fill="#ffa500"/>
<rect x="523.80" y="81.30" width="11.80" height="0.70" fill="#000000"/>
<rect x="523.80" y="78.10" width="11.80" height="3.20" fill="#ffff00"/>
<rect x="523.80" y="77.30" width="11.80" height="0.80" fill="#000000"/>
<rect x="523.80" y="76.10" width="11.80" height="1.20" fill="#90ee90"/>
<rect x="523.80" y="75.50" width="11.80" height="0.60" fill="#000000"/>
<rect x="523.80" y="73.80" width="11.80" height="1.70" fill="#0a4a0a"/>
<rect x="523.80" y="69.90" width="11.80" height="3.90" fill="#000000"/>
<line x1="523.80" y1="94.40" x2="535.60" y2="94.40" stroke="#000" stroke-width="0.6"/>
<line x1="523.80" y1="93.90" x2="535.60" y2="93.90" stroke="#000" stroke-width="0.6"/>
<line x1="523.80" y1="86.70" x2="535.60" y2="86.70" stroke="#000" stroke-width="0.6"/>
<line x1="523.80" y1="86.00" x2="535.60" y2="86.00" stroke="#000" stroke-width="0.6"/>
<line x1="523.80" y1="82.00" x2="535.60" y2="82.00" stroke="#000" stroke-width="0.6"/>
<line x1="523.80" y1="81.30" x2="535.60" y2="81.30" stroke="#000" stroke-width="0.6"/>
<line x1="523.80" y1="78.10" x2="535.60" y2="78.10" stroke="#000" stroke-width="0.6"/>
<line x1="523.80" y1="77.30" x2="535.60" y2="77.30" stroke="#000" stroke-width="0.6"/>
<line x1="523.80" y1="76.10" x2="535.60" y2="76.10" stroke="#000" stroke-width="0.6"/>
<line x1="523.80" y1="75.50" x2="535.60" y2="75.50" stroke="#000" stroke-width="0.6"/>
<line x1="523.80" y1="73.80" x2="535.60" y2="73.80" stroke="#000" stroke-width="0.6"/>
<line x1="523.80" y1="69.90" x2="535.60" y2="69.90" stroke="#000" stroke-width="0.6"/>
<rect x="523.80" y="52.50" width="11.80" height="143.70" fill="none" stroke="#000" stroke-width="1.1"/>
<rect x="523.80" y="219.85" width="11.80" height="143.65" fill="#bebebe"/>
<rect x="523.80" y="282.60" width="11.80" height="80.90" fill="#900000"/>
<rect x="523.80" y="270.60" width="11.80" height="12.00" fill="#ff0000"/>
<rect x="523.80" y="259.30" width="11.80" height="11.30" fill="#ffa500"/>
<rect x="523.80" y="255.50" width="11.80" height="3.80" fill="#ffff00"/>
<rect x="523.80" y="254.90" width="11.80" height="0.60" fill="#000000"/>
<rect x="523.80" y="253.00" width="11.80" height="1.90" fill="#90ee90"/>
<rect x="523.80" y="252.50" width="11.80" height="0.50" fill="#000000"/>
<rect x="523.80" y="251.20" width="11.80" height="1.30" fill="#00ff00"/>
<rect x="523.80" y="250.90" width="11.80" height="0.30" fill="#000000"/>
<rect x="523.80" y="249.70" width="11.80" height="1.20" fill="#00ff00"/>
<rect x="523.80" y="249.30" width="11.80" height="0.40" fill="#000000"/>
<rect x="523.80" y="248.60" width="11.80" height="0.70" fill="#add8e6"/>
<rect x="523.80" y="244.30" width="11.80" height="4.30" fill="#000080"/>
<rect x="523.80" y="243.90" width="11.80" height="0.40" fill="#000000"/>
<line x1="523.80" y1="282.60" x2="535.60" y2="282.60" stroke="#000" stroke-width="0.6"/>
<line x1="523.80" y1="270.60" x2="535.60" y2="270.60" stroke="#000" stroke-width="0.6"/>
<line x1="523.80" y1="259.30" x2="535.60" y2="259.30" stroke="#000" stroke-width="0.6"/>
<line x1="523.80" y1="255.50" x2="535.60" y2="255.50" stroke="#000" stroke-width="0.6"/>
<line x1="523.80" y1="254.90" x2="535.60" y2="254.90" stroke="#000" stroke-width="0.6"/>
<line x1="523.80" y1="253.00" x2="535.60" y2="253.00" stroke="#000" stroke-width="0.6"/>
<line x1="523.80" y1="252.50" x2="535.60" y2="252.50" stroke="#000" stroke-width="0.6"/>
<line x1="523.80" y1="251.20" x2="535.60" y2="251.20" stroke="#000" stroke-width="0.6"/>
<line x1="523.80" y1="250.90" x2="535.60" y2="250.90" stroke="#000" stroke-width="0.6"/>
<line x1="523.80" y1="249.70" x2="535.60" y2="249.70" stroke="#000" stroke-width="0.6"/>
<line x1="523.80" y1="249.30" x2="535.60" y2="249.30" stroke="#000" stroke-width="0.6"/>
<line x1="523.80" y1="248.60" x2="535.60" y2="248.60" stroke="#000" stroke-width="0.6"/>
<line x1="523.80" y1="244.30" x2="535.60" y2="244.30" stroke="#000" stroke-width="0.6"/>
<line x1="523.80" y1="243.90" x2="535.60" y2="243.90" stroke="#000" stroke-width="0.6"/>
<rect x="523.80" y="219.85" width="11.80" height="143.65" fill="none" stroke="#000" stroke-width="1.1"/>
<line x1="529.70" y1="203.60" x2="529.70" y2="206.00" stroke="#2a2a2a" stroke-width="1.2"/>
<line x1="529.70" y1="370.80" x2="529.70" y2="373.20" stroke="#2a2a2a" stroke-width="1.2"/>
<rect x="547.44" y="219.85" width="11.80" height="143.65" fill="#bebebe"/>
<rect x="547.44" y="260.30" width="11.80" height="103.20" fill="#900000"/>
<rect x="547.44" y="257.30" width="11.80" height="3.00" fill="#ff0000"/>
<rect x="547.44" y="256.70" width="11.80" height="0.60" fill="#000000"/>
<rect x="547.44" y="254.60" width="11.80" height="2.10" fill="#ffa500"/>
<rect x="547.44" y="253.90" width="11.80" height="0.70" fill="#000000"/>
<rect x="547.44" y="253.20" width="11.80" height="0.70" fill="#7a6a00"/>
<rect x="547.44" y="247.70" width="11.80" height="5.50" fill="#000000"/>
<line x1="547.44" y1="260.30" x2="559.24" y2="260.30" stroke="#000" stroke-width="0.6"/>
<line x1="547.44" y1="257.30" x2="559.24" y2="257.30" stroke="#000" stroke-width="0.6"/>
<line x1="547.44" y1="256.70" x2="559.24" y2="256.70" stroke="#000" stroke-width="0.6"/>
<line x1="547.44" y1="254.60" x2="559.24" y2="254.60" stroke="#000" stroke-width="0.6"/>
<line x1="547.44" y1="253.90" x2="559.24" y2="253.90" stroke="#000" stroke-width="0.6"/>
<line x1="547.44" y1="253.20" x2="559.24" y2="253.20" stroke="#000" stroke-width="0.6"/>
<line x1="547.44" y1="247.70" x2="559.24" y2="247.70" stroke="#000" stroke-width="0.6"/>
<rect x="547.44" y="219.85" width="11.80" height="143.65" fill="none" stroke="#000" stroke-width="1.1"/>
<line x1="553.34" y1="203.60" x2="553.34" y2="206.00" stroke="#2a2a2a" stroke-width="1.2"/>
<line x1="553.34" y1="370.80" x2="553.34" y2="373.20" stroke="#2a2a2a" stroke-width="1.2"/>
<rect x="571.08" y="52.50" width="11.80" height="143.70" fill="#bebebe"/>
<rect x="571.08" y="64.80" width="11.80" height="131.40" fill="#900000"/>
<rect x="571.08" y="64.30" width="11.80" height="0.50" fill="#000000"/>
<rect x="571.08" y="60.80" width="11.80" height="3.50" fill="#ff0000"/>
<rect x="571.08" y="57.50" width="11.80" height="3.30" fill="#000000"/>
<line x1="571.08" y1="64.80" x2="582.88" y2="64.80" stroke="#000" stroke-width="0.6"/>
<line x1="571.08" y1="64.30" x2="582.88" y2="64.30" stroke="#000" stroke-width="0.6"/>
<line x1="571.08" y1="60.80" x2="582.88" y2="60.80" stroke="#000" stroke-width="0.6"/>
<line x1="571.08" y1="57.50" x2="582.88" y2="57.50" stroke="#000" stroke-width="0.6"/>
<rect x="571.08" y="52.50" width="11.80" height="143.70" fill="none" stroke="#000" stroke-width="1.1"/>
<rect x="571.08" y="219.85" width="11.80" height="143.65" fill="#bebebe"/>
<rect x="571.08" y="240.00" width="11.80" height="123.50" fill="#900000"/>
<rect x="571.08" y="239.50" width="11.80" height="0.50" fill="#000000"/>
<rect x="571.08" y="236.60" width="11.80" height="2.90" fill="#ff0000"/>
<rect x="571.08" y="230.70" width="11.80" height="5.90" fill="#000000"/>
<line x1="571.08" y1="240.00" x2="582.88" y2="240.00" stroke="#000" stroke-width="0.6"/>
<line x1="571.08" y1="239.50" x2="582.88" y2="239.50" stroke="#000" stroke-width="0.6"/>
<line x1="571.08" y1="236.60" x2="582.88" y2="236.60" stroke="#000" stroke-width="0.6"/>
<line x1="571.08" y1="230.70" x2="582.88" y2="230.70" stroke="#000" stroke-width="0.6"/>
<rect x="571.08" y="219.85" width="11.80" height="143.65" fill="none" stroke="#000" stroke-width="1.1"/>
<line x1="576.98" y1="203.60" x2="576.98" y2="206.00" stroke="#2a2a2a" stroke-width="1.2"/>
<line x1="576.98" y1="370.80" x2="576.98" y2="373.20" stroke="#2a2a2a" stroke-width="1.2"/>
<rect x="594.72" y="52.50" width="11.80" height="143.70" fill="#bebebe"/>
<rect x="594.72" y="65.40" width="11.80" height="130.80" fill="#900000"/>
<rect x="594.72" y="64.90" width="11.80" height="0.50" fill="#000000"/>
<rect x="594.72" y="61.00" width="11.80" height="3.90" fill="#ff0000"/>
<rect x="594.72" y="58.50" width="11.80" height="2.50" fill="#000000"/>
<line x1="594.72" y1="65.40" x2="606.52" y2="65.40" stroke="#000" stroke-width="0.6"/>
<line x1="594.72" y1="64.90" x2="606.52" y2="64.90" stroke="#000" stroke-width="0.6"/>
<line x1="594.72" y1="61.00" x2="606.52" y2="61.00" stroke="#000" stroke-width="0.6"/>
<line x1="594.72" y1="58.50" x2="606.52" y2="58.50" stroke="#000" stroke-width="0.6"/>
<rect x="594.72" y="52.50" width="11.80" height="143.70" fill="none" stroke="#000" stroke-width="1.1"/>
<rect x="594.72" y="219.85" width="11.80" height="143.65" fill="#bebebe"/>
<rect x="594.72" y="244.70" width="11.80" height="118.80" fill="#900000"/>
<rect x="594.72" y="226.60" width="11.80" height="18.10" fill="#ff0000"/>
<rect x="594.72" y="223.20" width="11.80" height="3.40" fill="#000000"/>
<line x1="594.72" y1="244.70" x2="606.52" y2="244.70" stroke="#000" stroke-width="0.6"/>
<line x1="594.72" y1="226.60" x2="606.52" y2="226.60" stroke="#000" stroke-width="0.6"/>
<line x1="594.72" y1="223.20" x2="606.52" y2="223.20" stroke="#000" stroke-width="0.6"/>
<rect x="594.72" y="219.85" width="11.80" height="143.65" fill="none" stroke="#000" stroke-width="1.1"/>
<line x1="600.62" y1="203.60" x2="600.62" y2="206.00" stroke="#2a2a2a" stroke-width="1.2"/>
<line x1="600.62" y1="370.80" x2="600.62" y2="373.20" stroke="#2a2a2a" stroke-width="1.2"/>
<rect x="46.50" y="376.40" width="23.65" height="8.90" fill="#ffffff"/>
<rect x="46.50" y="385.30" width="23.65" height="8.90" fill="#ffffff"/>
<rect x="46.50" y="394.20" width="23.65" height="8.90" fill="#ffffff"/>
<rect x="46.50" y="403.10" width="23.65" height="8.90" fill="#ffffff"/>
<rect x="46.50" y="412.00" width="23.65" height="8.90" fill="#ede44a"/>
<rect x="70.15" y="376.40" width="23.65" height="8.90" fill="#7d7d7d"/>
<rect x="70.15" y="385.30" width="23.65" height="8.90" fill="#ffffff"/>
<rect x="70.15" y="394.20" width="23.65" height="8.90" fill="#ffffff"/>
<rect x="70.15" y="403.10" width="23.65" height="8.90" fill="#ffffff"/>
<rect x="70.15" y="412.00" width="23.65" height="8.90" fill="#ede44a"/>
<rect x="93.80" y="376.40" width="23.65" height="8.90" fill="#ffffff"/>
<rect x="93.80" y="385.30" width="23.65" height="8.90" fill="#ffffff"/>
<rect x="93.80" y="394.20" width="23.65" height="8.90" fill="#ffffff"/>
<rect x="93.80" y="403.10" width="23.65" height="8.90" fill="#ffffff"/>
<rect x="93.80" y="412.00" width="23.65" height="8.90" fill="#ede44a"/>
<rect x="117.45" y="376.40" width="23.65" height="8.90" fill="#ffffff"/>
<rect x="117.45" y="385.30" width="23.65" height="8.90" fill="#ffffff"/>
<rect x="117.45" y="394.20" width="23.65" height="8.90" fill="#ffffff"/>
<rect x="117.45" y="403.10" width="23.65" height="8.90" fill="#ffffff"/>
<rect x="117.45" y="412.00" width="23.65" height="8.90" fill="#ede44a"/>
<rect x="141.10" y="376.40" width="23.65" height="8.90" fill="#ffffff"/>
<rect x="141.10" y="385.30" width="23.65" height="8.90" fill="#ffffff"/>
<rect x="141.10" y="394.20" width="23.65" height="8.90" fill="#ffffff"/>
<rect x="141.10" y="403.10" width="23.65" height="8.90" fill="#ffffff"/>
<rect x="141.10" y="412.00" width="23.65" height="8.90" fill="#ede44a"/>
<rect x="164.75" y="376.40" width="23.65" height="8.90" fill="#ffffff"/>
<rect x="164.75" y="385.30" width="23.65" height="8.90" fill="#ffffff"/>
<rect x="164.75" y="394.20" width="23.65" height="8.90" fill="#ffffff"/>
<rect x="164.75" y="403.10" width="23.65" height="8.90" fill="#ffffff"/>
<rect x="164.75" y="412.00" width="23.65" height="8.90" fill="#ede44a"/>
<rect x="188.40" y="376.40" width="23.65" height="8.90" fill="#ffffff"/>
<rect x="188.40" y="385.30" width="23.65" height="8.90" fill="#ffffff"/>
<rect x="188.40" y="394.20" width="23.65" height="8.90" fill="#ffffff"/>
<rect x="188.40" y="403.10" width="23.65" height="8.90" fill="#ffffff"/>
<rect x="188.40" y="412.00" width="23.65" height="8.90" fill="#ede44a"/>
<rect x="212.05" y="376.40" width="23.65" height="8.90" fill="#ffffff"/>
<rect x="212.05" y="385.30" width="23.65" height="8.90" fill="#ffffff"/>
<rect x="212.05" y="394.20" width="23.65" height="8.90" fill="#ffffff"/>
<rect x="212.05" y="403.10" width="23.65" height="8.90" fill="#ffffff"/>
<rect x="212.05" y="412.00" width="23.65" height="8.90" fill="#ede44a"/>
<rect x="235.70" y="376.40" width="23.65" height="8.90" fill="#ffffff"/>
<rect x="235.70" y="385.30" width="23.65" height="8.90" fill="#ffffff"/>
<rect x="235.70" y="394.20" width="23.65" height="8.90" fill="#ffffff"/>
<rect x="235.70" y="403.10" width="23.65" height="8.90" fill="#ffffff"/>
<rect x="235.70" y="412.00" width="23.65" height="8.90" fill="#ede44a"/>
<rect x="259.35" y="376.40" width="23.65" height="8.90" fill="#ffffff"/>
<rect x="259.35" y="385.30" width="23.65" height="8.90" fill="#ffffff"/>
<rect x="259.35" y="394.20" width="23.65" height="8.90" fill="#ffffff"/>
<rect x="259.35" y="403.10" width="23.65" height="8.90" fill="#ffffff"/>
<rect x="259.35" y="412.00" width="23.65" height="8.90" fill="#ede44a"/>
<rect x="283.00" y="376.40" width="23.65" height="8.90" fill="#ffffff"/>
<rect x="283.00" y="385.30" width="23.65" height="8.90" fill="#ffffff"/>
<rect x="283.00" y="394.20" width="23.65" height="8.90" fill="#cfcfcf"/>
<rect x="283.00" y="403.10" width="23.65" height="8.90" fill="#cfcfcf"/>
<rect x="283.00" y="412.00" width="23.65" height="8.90" fill="#ede44a"/>
<rect x="306.65" y="376.40" width="23.65" height="8.90" fill="#ffffff"/>
<rect x="306.65" y="385.30" width="23.65" height="8.90" fill="#ffffff"/>
<rect x="306.65" y="394.20" width="23.65" height="8.90" fill="#cfcfcf"/>
<rect x="306.65" y="403.10" width="23.65" height="8.90" fill="#ffffff"/>
<rect x="306.65" y="412.00" width="23.65" height="8.90" fill="#ede44a"/>
<rect x="330.30" y="376.40" width="23.65" height="8.90" fill="#cfcfcf"/>
<rect x="330.30" y="385.30" width="23.65" height="8.90" fill="#ffffff"/>
<rect x="330.30" y="394.20" width="23.65" height="8.90" fill="#ffffff"/>
<rect x="330.30" y="403.10" width="23.65" height="8.90" fill="#cfcfcf"/>
<rect x="330.30" y="412.00" width="23.65" height="8.90" fill="#ede44a"/>
<rect x="353.95" y="376.40" width="23.65" height="8.90" fill="#999999"/>
<rect x="353.95" y="385.30" width="23.65" height="8.90" fill="#cfcfcf"/>
<rect x="353.95" y="394.20" width="23.65" height="8.90" fill="#ffffff"/>
<rect x="353.95" y="403.10" width="23.65" height="8.90" fill="#ffffff"/>
<rect x="353.95" y="412.00" width="23.65" height="8.90" fill="#ede44a"/>
<rect x="377.60" y="376.40" width="23.65" height="8.90" fill="#ffffff"/>
<rect x="377.60" y="385.30" width="23.65" height="8.90" fill="#ffffff"/>
<rect x="377.60" y="394.20" width="23.65" height="8.90" fill="#ffffff"/>
<rect x="377.60" y="403.10" width="23.65" height="8.90" fill="#ffffff"/>
<rect x="377.60" y="412.00" width="23.65" height="8.90" fill="#ede44a"/>
<rect x="401.25" y="376.40" width="23.65" height="8.90" fill="#cfcfcf"/>
<rect x="401.25" y="385.30" width="23.65" height="8.90" fill="#cfcfcf"/>
<rect x="401.25" y="394.20" width="23.65" height="8.90" fill="#ffffff"/>
<rect x="401.25" y="403.10" width="23.65" height="8.90" fill="#ffffff"/>
<rect x="401.25" y="412.00" width="23.65" height="8.90" fill="#ede44a"/>
<rect x="424.90" y="376.40" width="23.65" height="8.90" fill="#cfcfcf"/>
<rect x="424.90" y="385.30" width="23.65" height="8.90" fill="#999999"/>
<rect x="424.90" y="394.20" width="23.65" height="8.90" fill="#cfcfcf"/>
<rect x="424.90" y="403.10" width="23.65" height="8.90" fill="#999999"/>
<rect x="424.90" y="412.00" width="23.65" height="8.90" fill="#ede44a"/>
<rect x="448.55" y="376.40" width="23.65" height="8.90" fill="#ffffff"/>
<rect x="448.55" y="385.30" width="23.65" height="8.90" fill="#ffffff"/>
<rect x="448.55" y="394.20" width="23.65" height="8.90" fill="#ffffff"/>
<rect x="448.55" y="403.10" width="23.65" height="8.90" fill="#ffffff"/>
<rect x="448.55" y="412.00" width="23.65" height="8.90" fill="#b22c12"/>
<rect x="472.20" y="376.40" width="23.65" height="8.90" fill="#999999"/>
<rect x="472.20" y="385.30" width="23.65" height="8.90" fill="#ffffff"/>
<rect x="472.20" y="394.20" width="23.65" height="8.90" fill="#ffffff"/>
<rect x="472.20" y="403.10" width="23.65" height="8.90" fill="#ffffff"/>
<rect x="472.20" y="412.00" width="23.65" height="8.90" fill="#ede44a"/>
<rect x="495.85" y="376.40" width="23.65" height="8.90" fill="#ffffff"/>
<rect x="495.85" y="385.30" width="23.65" height="8.90" fill="#ffffff"/>
<rect x="495.85" y="394.20" width="23.65" height="8.90" fill="#999999"/>
<rect x="495.85" y="403.10" width="23.65" height="8.90" fill="#ffffff"/>
<rect x="495.85" y="412.00" width="23.65" height="8.90" fill="#ede44a"/>
<rect x="519.50" y="376.40" width="23.65" height="8.90" fill="#ffffff"/>
<rect x="519.50" y="385.30" width="23.65" height="8.90" fill="#ffffff"/>
<rect x="519.50" y="394.20" width="23.65" height="8.90" fill="#262626"/>
<rect x="519.50" y="403.10" width="23.65" height="8.90" fill="#ffffff"/>
<rect x="519.50" y="412.00" width="23.65" height="8.90" fill="#ede44a"/>
<rect x="543.15" y="376.40" width="23.65" height="8.90" fill="#6b6b6b"/>
<rect x="543.15" y="385.30" width="23.65" height="8.90" fill="#ffffff"/>
<rect x="543.15" y="394.20" width="23.65" height="8.90" fill="#ffffff"/>
<rect x="543.15" y="403.10" width="23.65" height="8.90" fill="#cfcfcf"/>
<rect x="543.15" y="412.00" width="23.65" height="8.90" fill="#ede44a"/>
<rect x="566.80" y="376.40" width="23.65" height="8.90" fill="#ffffff"/>
<rect x="566.80" y="385.30" width="23.65" height="8.90" fill="#ffffff"/>
<rect x="566.80" y="394.20" width="23.65" height="8.90" fill="#ffffff"/>
<rect x="566.80" y="403.10" width="23.65" height="8.90" fill="#cfcfcf"/>
<rect x="566.80" y="412.00" width="23.65" height="8.90" fill="#ede44a"/>
<rect x="590.45" y="376.40" width="23.65" height="8.90" fill="#ffffff"/>
<rect x="590.45" y="385.30" width="23.65" height="8.90" fill="#ffffff"/>
<rect x="590.45" y="394.20" width="23.65" height="8.90" fill="#ffffff"/>
<rect x="590.45" y="403.10" width="23.65" height="8.90" fill="#ffffff"/>
<rect x="590.45" y="412.00" width="23.65" height="8.90" fill="#ede44a"/>
<line x1="46.50" y1="376.40" x2="46.50" y2="420.90" stroke="#111" stroke-width="1.05"/>
<line x1="70.15" y1="376.40" x2="70.15" y2="420.90" stroke="#111" stroke-width="1.05"/>
<line x1="93.80" y1="376.40" x2="93.80" y2="420.90" stroke="#111" stroke-width="1.05"/>
<line x1="117.45" y1="376.40" x2="117.45" y2="420.90" stroke="#111" stroke-width="1.05"/>
<line x1="141.10" y1="376.40" x2="141.10" y2="420.90" stroke="#111" stroke-width="1.05"/>
<line x1="164.75" y1="376.40" x2="164.75" y2="420.90" stroke="#111" stroke-width="1.05"/>
<line x1="188.40" y1="376.40" x2="188.40" y2="420.90" stroke="#111" stroke-width="1.05"/>
<line x1="212.05" y1="376.40" x2="212.05" y2="420.90" stroke="#111" stroke-width="1.05"/>
<line x1="235.70" y1="376.40" x2="235.70" y2="420.90" stroke="#111" stroke-width="1.05"/>
<line x1="259.35" y1="376.40" x2="259.35" y2="420.90" stroke="#111" stroke-width="1.05"/>
<line x1="283.00" y1="376.40" x2="283.00" y2="420.90" stroke="#111" stroke-width="1.05"/>
<line x1="306.65" y1="376.40" x2="306.65" y2="420.90" stroke="#111" stroke-width="1.05"/>
<line x1="330.30" y1="376.40" x2="330.30" y2="420.90" stroke="#111" stroke-width="1.05"/>
<line x1="353.95" y1="376.40" x2="353.95" y2="420.90" stroke="#111" stroke-width="1.05"/>
<line x1="377.60" y1="376.40" x2="377.60" y2="420.90" stroke="#111" stroke-width="1.05"/>
<line x1="401.25" y1="376.40" x2="401.25" y2="420.90" stroke="#111" stroke-width="1.05"/>
<line x1="424.90" y1="376.40" x2="424.90" y2="420.90" stroke="#111" stroke-width="1.05"/>
<line x1="448.55" y1="376.40" x2="448.55" y2="420.90" stroke="#111" stroke-width="1.05"/>
<line x1="472.20" y1="376.40" x2="472.20" y2="420.90" stroke="#111" stroke-width="1.05"/>
<line x1="495.85" y1="376.40" x2="495.85" y2="420.90" stroke="#111" stroke-width="1.05"/>
<line x1="519.50" y1="376.40" x2="519.50" y2="420.90" stroke="#111" stroke-width="1.05"/>
<line x1="543.15" y1="376.40" x2="543.15" y2="420.90" stroke="#111" stroke-width="1.05"/>
<line x1="566.80" y1="376.40" x2="566.80" y2="420.90" stroke="#111" stroke-width="1.05"/>
<line x1="590.45" y1="376.40" x2="590.45" y2="420.90" stroke="#111" stroke-width="1.05"/>
<line x1="614.10" y1="376.40" x2="614.10" y2="420.90" stroke="#111" stroke-width="1.05"/>
<line x1="46.50" y1="376.40" x2="614.10" y2="376.40" stroke="#111" stroke-width="1.3"/>
<line x1="46.50" y1="385.30" x2="614.10" y2="385.30" stroke="#111" stroke-width="1.3"/>
<line x1="46.50" y1="394.20" x2="614.10" y2="394.20" stroke="#111" stroke-width="1.3"/>
<line x1="46.50" y1="403.10" x2="614.10" y2="403.10" stroke="#111" stroke-width="1.3"/>
<line x1="46.50" y1="412.00" x2="614.10" y2="412.00" stroke="#111" stroke-width="1.3"/>
<line x1="46.50" y1="420.90" x2="614.10" y2="420.90" stroke="#111" stroke-width="1.3"/>
<text x="38.00" y="382.45" font-size="8.7" text-anchor="end" fill="#222" stroke="#222" textLength="24.60" lengthAdjust="spacingAndGlyphs" font-style="italic">TET2</text>
<text x="40.60" y="391.35" font-size="8.7" text-anchor="end" fill="#222" stroke="#222" textLength="29.60" lengthAdjust="spacingAndGlyphs" font-style="italic">RHOA</text>
<text x="45.00" y="400.45" font-size="8.7" text-anchor="end" fill="#222" stroke="#222" textLength="42.20" lengthAdjust="spacingAndGlyphs" font-style="italic">DNMT3A</text>
<text x="38.10" y="409.45" font-size="8.7" text-anchor="end" fill="#222" stroke="#222" textLength="24.00" lengthAdjust="spacingAndGlyphs" font-style="italic">IDH2</text>
<text x="35.20" y="418.95" font-size="8.7" text-anchor="end" fill="#222" stroke="#222" textLength="20.40" lengthAdjust="spacingAndGlyphs">EBV</text>
<text transform="translate(59.90,425.9) scale(1.08,1) rotate(-90)" font-size="8.15" text-anchor="end" fill="#222" stroke="#222">T−cell−1</text>
<text transform="translate(83.72,425.9) scale(1.08,1) rotate(-90)" font-size="8.15" text-anchor="end" fill="#222" stroke="#222">T−cell−2</text>
<text transform="translate(107.54,425.9) scale(1.08,1) rotate(-90)" font-size="8.15" text-anchor="end" fill="#222" stroke="#222">T−cell−3</text>
<text transform="translate(131.36,425.9) scale(1.08,1) rotate(-90)" font-size="8.15" text-anchor="end" fill="#222" stroke="#222">T−cell−4</text>
<text transform="translate(155.18,425.9) scale(1.08,1) rotate(-90)" font-size="8.15" text-anchor="end" fill="#222" stroke="#222">T−cell−5</text>
<text transform="translate(179.00,425.9) scale(1.08,1) rotate(-90)" font-size="8.15" text-anchor="end" fill="#222" stroke="#222">T−cell−6</text>
<text transform="translate(202.82,425.9) scale(1.08,1) rotate(-90)" font-size="8.15" text-anchor="end" fill="#222" stroke="#222">T−cell−7</text>
<text transform="translate(226.64,425.9) scale(1.08,1) rotate(-90)" font-size="8.15" text-anchor="end" fill="#222" stroke="#222">T−cell−8</text>
<text transform="translate(250.46,425.9) scale(1.08,1) rotate(-90)" font-size="8.15" text-anchor="end" fill="#222" stroke="#222">T−cell−9</text>
<text transform="translate(274.28,425.9) scale(1.08,1) rotate(-90)" font-size="8.15" text-anchor="end" fill="#222" stroke="#222">T−cell−10</text>
<text transform="translate(298.10,425.9) scale(1.08,1) rotate(-90)" font-size="8.15" text-anchor="end" fill="#222" stroke="#222">PTCL−NOS−17</text>
<text transform="translate(321.92,425.9) scale(1.08,1) rotate(-90)" font-size="8.15" text-anchor="end" fill="#222" stroke="#222">PTCL−NOS−14</text>
<text transform="translate(345.74,425.9) scale(1.08,1) rotate(-90)" font-size="8.15" text-anchor="end" fill="#222" stroke="#222">PTCL−NOS−5</text>
<text transform="translate(369.56,425.9) scale(1.08,1) rotate(-90)" font-size="8.15" text-anchor="end" fill="#222" stroke="#222">PTCL−NOS−2</text>
<text transform="translate(393.38,425.9) scale(1.08,1) rotate(-90)" font-size="8.15" text-anchor="end" fill="#222" stroke="#222">PTCL−NOS−4</text>
<text transform="translate(417.20,425.9) scale(1.08,1) rotate(-90)" font-size="8.15" text-anchor="end" fill="#222" stroke="#222">PTCL−NOS−3</text>
<text transform="translate(441.02,425.9) scale(1.08,1) rotate(-90)" font-size="8.15" text-anchor="end" fill="#222" stroke="#222">PTCL−NOS−7</text>
<text transform="translate(464.84,425.9) scale(1.08,1) rotate(-90)" font-size="8.15" text-anchor="end" fill="#222" stroke="#222">PTCL−NOS−15</text>
<text transform="translate(488.66,425.9) scale(1.08,1) rotate(-90)" font-size="8.15" text-anchor="end" fill="#222" stroke="#222">PTCL−NOS−1</text>
<text transform="translate(512.48,425.9) scale(1.08,1) rotate(-90)" font-size="8.15" text-anchor="end" fill="#222" stroke="#222">PTCL−NOS−10</text>
<text transform="translate(536.30,425.9) scale(1.08,1) rotate(-90)" font-size="8.15" text-anchor="end" fill="#222" stroke="#222">PTCL−NOS−9</text>
<text transform="translate(560.12,425.9) scale(1.08,1) rotate(-90)" font-size="8.15" text-anchor="end" fill="#222" stroke="#222">PTCL−NOS−16</text>
<text transform="translate(583.94,425.9) scale(1.08,1) rotate(-90)" font-size="8.15" text-anchor="end" fill="#222" stroke="#222">PTCL−NOS−11</text>
<text transform="translate(607.76,425.9) scale(1.08,1) rotate(-90)" font-size="8.15" text-anchor="end" fill="#222" stroke="#222">PTCL−NOS−13</text>
<text x="630.80" y="89.70" font-size="10.0" text-anchor="start" fill="#222" stroke="#222" textLength="33.00" lengthAdjust="spacingAndGlyphs">Ranking</text>
<rect x="629.60" y="99.50" width="8.50" height="8.40" fill="#900000" stroke="#111" stroke-width="1.0"/>
<text x="642.20" y="106.75" font-size="9.3" text-anchor="start" fill="#222" stroke="#222" textLength="4.80" lengthAdjust="spacingAndGlyphs">1</text>
<rect x="629.60" y="108.30" width="8.50" height="8.40" fill="#ff0000" stroke="#111" stroke-width="1.0"/>
<text x="642.20" y="115.63" font-size="9.3" text-anchor="start" fill="#222" stroke="#222" textLength="4.80" lengthAdjust="spacingAndGlyphs">2</text>
<rect x="629.60" y="117.10" width="8.50" height="8.40" fill="#ffa500" stroke="#111" stroke-width="1.0"/>
<text x="642.20" y="124.51" font-size="9.3" text-anchor="start" fill="#222" stroke="#222" textLength="4.80" lengthAdjust="spacingAndGlyphs">3</text>
<rect x="629.60" y="125.90" width="8.50" height="8.40" fill="#ffff00" stroke="#111" stroke-width="1.0"/>
<text x="642.20" y="133.39" font-size="9.3" text-anchor="start" fill="#222" stroke="#222" textLength="4.80" lengthAdjust="spacingAndGlyphs">4</text>
<rect x="629.60" y="134.70" width="8.50" height="8.40" fill="#90ee90" stroke="#111" stroke-width="1.0"/>
<text x="642.20" y="142.27" font-size="9.3" text-anchor="start" fill="#222" stroke="#222" textLength="4.80" lengthAdjust="spacingAndGlyphs">5</text>
<rect x="629.60" y="143.50" width="8.50" height="8.40" fill="#00ff00" stroke="#111" stroke-width="1.0"/>
<text x="642.20" y="151.15" font-size="9.3" text-anchor="start" fill="#222" stroke="#222" textLength="4.80" lengthAdjust="spacingAndGlyphs">6</text>
<rect x="629.60" y="152.30" width="8.50" height="8.40" fill="#add8e6" stroke="#111" stroke-width="1.0"/>
<text x="642.20" y="160.03" font-size="9.3" text-anchor="start" fill="#222" stroke="#222" textLength="4.80" lengthAdjust="spacingAndGlyphs">7</text>
<rect x="629.60" y="161.10" width="8.50" height="8.40" fill="#0000ff" stroke="#111" stroke-width="1.0"/>
<text x="642.20" y="168.91" font-size="9.3" text-anchor="start" fill="#222" stroke="#222" textLength="4.80" lengthAdjust="spacingAndGlyphs">8</text>
<rect x="629.60" y="169.90" width="8.50" height="8.40" fill="#000080" stroke="#111" stroke-width="1.0"/>
<text x="642.20" y="177.79" font-size="9.3" text-anchor="start" fill="#222" stroke="#222" textLength="4.80" lengthAdjust="spacingAndGlyphs">9</text>
<rect x="629.60" y="178.70" width="8.50" height="8.40" fill="#a020f0" stroke="#111" stroke-width="1.0"/>
<text x="642.20" y="186.67" font-size="9.3" text-anchor="start" fill="#222" stroke="#222" textLength="9.60" lengthAdjust="spacingAndGlyphs">10</text>
<rect x="629.60" y="187.50" width="8.50" height="8.40" fill="#bebebe" stroke="#111" stroke-width="1.0"/>
<text x="642.20" y="195.55" font-size="9.3" text-anchor="start" fill="#222" stroke="#222" textLength="26.90" lengthAdjust="spacingAndGlyphs">Others</text>
<text x="627.70" y="319.60" font-size="8.8" text-anchor="start" fill="#222" stroke="#222" textLength="15.50" lengthAdjust="spacingAndGlyphs">VAF</text>
<rect x="625.00" y="329.25" width="18.60" height="9.93" fill="#262626" stroke="#111" stroke-width="1.1"/>
<text x="647.10" y="336.60" font-size="9.4" text-anchor="start" fill="#222" stroke="#222" textLength="27.60" lengthAdjust="spacingAndGlyphs">&gt;50%</text>
<rect x="625.00" y="339.18" width="18.60" height="9.93" fill="#6b6b6b" stroke="#111" stroke-width="1.1"/>
<text x="647.10" y="346.87" font-size="9.4" text-anchor="start" fill="#222" stroke="#222" textLength="36.10" lengthAdjust="spacingAndGlyphs">30-50%</text>
<rect x="625.00" y="349.11" width="18.60" height="9.93" fill="#9a9a9a" stroke="#111" stroke-width="1.1"/>
<text x="647.10" y="357.14" font-size="9.4" text-anchor="start" fill="#222" stroke="#222" textLength="35.60" lengthAdjust="spacingAndGlyphs">15-30%</text>
<rect x="625.00" y="359.04" width="18.60" height="9.93" fill="#cfcfcf" stroke="#111" stroke-width="1.1"/>
<text x="647.10" y="367.41" font-size="9.4" text-anchor="start" fill="#222" stroke="#222" textLength="29.90" lengthAdjust="spacingAndGlyphs">5-15%</text>
<rect x="625.00" y="368.97" width="18.60" height="9.93" fill="#ffffff" stroke="#111" stroke-width="1.1"/>
<text x="647.10" y="377.68" font-size="9.4" text-anchor="start" fill="#222" stroke="#222" textLength="14.00" lengthAdjust="spacingAndGlyphs">0%</text>
<rect x="626.40" y="397.90" width="18.70" height="10.30" fill="#b22c12" stroke="#111" stroke-width="1.1"/>
<text x="648.00" y="406.05" font-size="8.6" text-anchor="start" fill="#333" stroke="#333" textLength="23.30" lengthAdjust="spacingAndGlyphs">EBV+</text>
<rect x="626.40" y="408.20" width="18.70" height="10.30" fill="#ede44a" stroke="#111" stroke-width="1.1"/>
<text x="648.00" y="416.35" font-size="8.6" text-anchor="start" fill="#333" stroke="#333" textLength="20.20" lengthAdjust="spacingAndGlyphs">EBV-</text>
</g>
</svg>
</div></body></html>
